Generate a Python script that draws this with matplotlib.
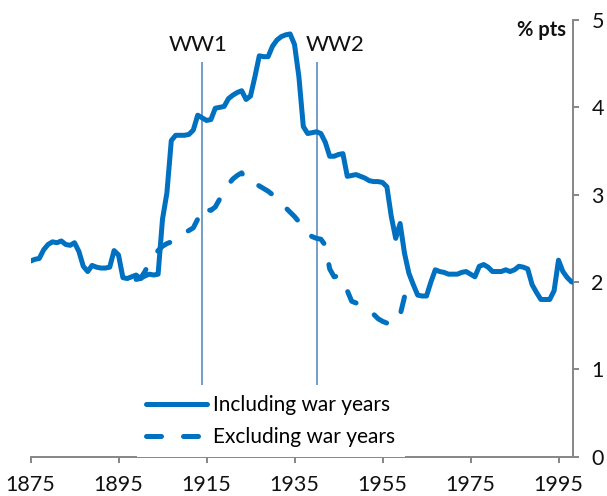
import matplotlib
matplotlib.use("Agg")
import matplotlib.pyplot as plt

plt.rcParams['font.family'] = ['Lato', 'DejaVu Sans']

# ---- data ----
years_incl = list(range(1875, 1999))
incl = [2.24, 2.26, 2.27, 2.37, 2.43, 2.46, 2.45, 2.47, 2.43, 2.42,   # 1875-1884
        2.45, 2.35, 2.18, 2.12, 2.19, 2.17, 2.16, 2.16, 2.17, 2.36,   # 1885-1894
        2.31, 2.05, 2.04, 2.06, 2.08, 2.04, 2.07, 2.09, 2.08, 2.09,   # 1895-1904
        2.72, 3.02, 3.62, 3.68, 3.68, 3.68, 3.69, 3.74, 3.91, 3.88,   # 1905-1914
        3.85, 3.86, 3.99, 4.00, 4.01, 4.10, 4.14, 4.17, 4.19, 4.09,   # 1915-1924
        4.13, 4.35, 4.59, 4.58, 4.58, 4.70, 4.77, 4.81, 4.83, 4.84,   # 1925-1934
        4.72, 4.35, 3.78, 3.70, 3.71, 3.72, 3.70, 3.60, 3.44, 3.44,   # 1935-1944
        3.46, 3.47, 3.21, 3.22, 3.23, 3.21, 3.19, 3.16, 3.15, 3.15,   # 1945-1954
        3.14, 3.09, 2.75, 2.50, 2.67, 2.33, 2.10, 1.97, 1.85, 1.84,   # 1955-1964
        1.84, 2.00, 2.14, 2.12, 2.11, 2.09, 2.09, 2.09, 2.11, 2.12,   # 1965-1974
        2.09, 2.06, 2.18, 2.20, 2.17, 2.12, 2.12, 2.12, 2.14, 2.12,   # 1975-1984
        2.14, 2.18, 2.17, 2.15, 1.97, 1.88, 1.80, 1.80, 1.80, 1.90,   # 1985-1994
        2.25, 2.12, 2.05, 2.00]                                       # 1995-1998

years_excl = list(range(1899, 1963))
excl = [2.03, 2.04, 2.12, 2.22, 2.30, 2.36, 2.41, 2.44, 2.46, 2.48,   # 1899-1908
        2.52, 2.56, 2.59, 2.62, 2.72, 2.86, 2.83, 2.82, 2.86, 2.95,   # 1909-1918
        3.03, 3.12, 3.18, 3.22, 3.25, 3.15, 3.14, 3.13, 3.10, 3.07,   # 1919-1928
        3.04, 3.00, 2.95, 2.90, 2.85, 2.80, 2.75, 2.69, 2.60, 2.55,   # 1929-1938
        2.52, 2.50, 2.49, 2.42, 2.15, 2.06, 2.07, 2.04, 1.90, 1.78,   # 1939-1948
        1.76, 1.73, 1.70, 1.68, 1.63, 1.58, 1.55, 1.53, 1.52, 1.53,   # 1949-1958
        1.62, 1.83, 1.96, 1.97]                                       # 1959-1962

series_labels = ["Including war years", "Excluding war years"]
xticks = [1875, 1895, 1915, 1935, 1955, 1975, 1995]
yticks = [0, 1, 2, 3, 4, 5]
war_years = [1914, 1940]
war_labels = ["WW1", "WW2"]
unit_label = "% pts"

# ---- figure ----
W, H = 607, 496
fig = plt.figure(figsize=(W / 100, H / 100), dpi=100)
x0, x1, y0, y1 = 30.5, 573.3, 456.7, 20.0
ax = fig.add_axes([x0 / W, 1 - y0 / H, (x1 - x0) / W, (y0 - y1) / H])

blue = '#0070C0'
grey = '#868686'
lw = 3.6

ax.plot(years_incl, incl, color=blue, lw=lw, solid_joinstyle='round',
        solid_capstyle='round', label=series_labels[0], zorder=3)
ax.plot(years_excl, excl, color=blue, lw=lw, dashes=(3.0, 4.4),
        dash_capstyle='round', dash_joinstyle='round',
        label=series_labels[1], zorder=3)

ax.vlines(war_years, 0.82, 4.52, color='#4F81BD', lw=1.1, zorder=2)
ax.text(1913.1, 4.71, war_labels[0], ha='center', va='center', fontsize=16, color='#111111')
ax.text(1944.3, 4.71, war_labels[1], ha='center', va='center', fontsize=16, color='#111111')

ax.set_xlim(1875, 1875 + (x1 - x0) / 4.4)
ax.set_ylim(0, 5)

for s in ['top', 'left']:
    ax.spines[s].set_visible(False)
for s in ['bottom', 'right']:
    ax.spines[s].set_color(grey)
    ax.spines[s].set_linewidth(1.4)

ax.set_xticks(xticks)
ax.set_xticklabels([str(t) for t in xticks])
ax.set_yticks(yticks)
ax.yaxis.tick_right()
ax.tick_params(axis='x', direction='out', length=4.5, width=1.4, color=grey,
               labelsize=15.5, pad=9, labelcolor='#111111')
ax.tick_params(axis='y', direction='out', length=4, width=1.4, color=grey,
               labelsize=15.5, pad=9, labelcolor='#111111')

ax.text(1996.6, 4.885, unit_label, ha='right', va='center', fontsize=14.5,
        fontweight='bold', color='#111111')

leg = ax.legend(loc='lower left', bbox_to_anchor=((137 - x0) / (x1 - x0), 0.0),
                borderaxespad=0, frameon=True, fancybox=False, fontsize=15,
                handlelength=2.9, handletextpad=0.3, labelspacing=0.6,
                borderpad=0.45)
leg.get_frame().set_facecolor('white')
leg.get_frame().set_edgecolor('none')
leg.get_frame().set_alpha(1)
leg.set_zorder(5)

fig.savefig('out.png', dpi=100)
